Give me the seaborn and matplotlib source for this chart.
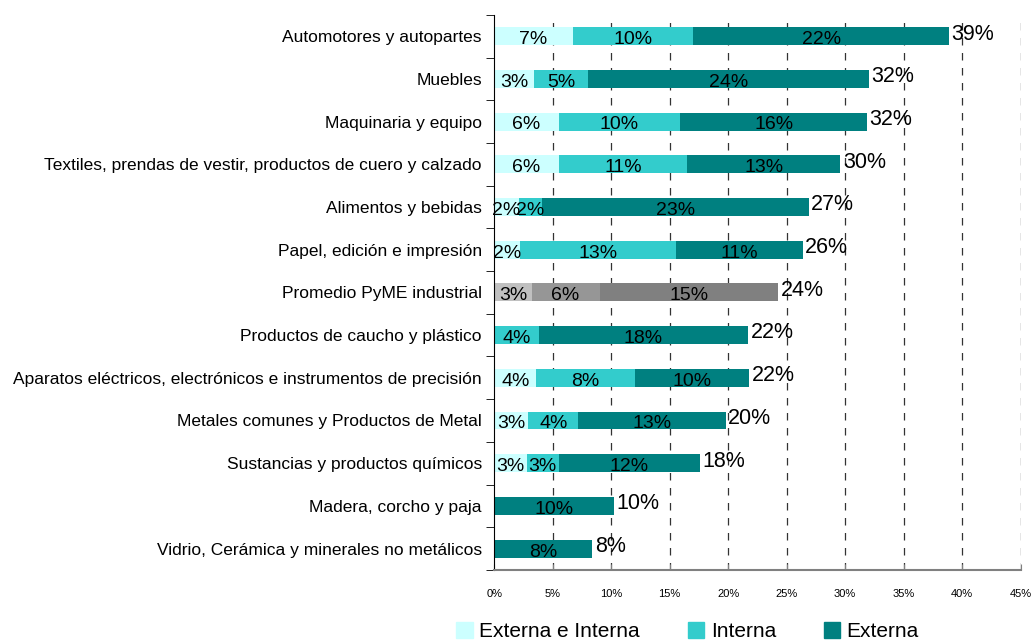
import matplotlib
matplotlib.use("Agg")
import matplotlib.pyplot as plt
import matplotlib.patches as mpatches
import seaborn as sns
import numpy as np
import pandas as pd

categorias = [
    "Automotores y autopartes",
    "Muebles",
    "Maquinaria y equipo",
    "Textiles, prendas de vestir, productos de cuero y calzado",
    "Alimentos y bebidas",
    "Papel, edición e impresión",
    "Promedio PyME industrial",
    "Productos de caucho y plástico",
    "Aparatos eléctricos, electrónicos e instrumentos de precisión",
    "Metales comunes y Productos de Metal",
    "Sustancias y productos químicos",
    "Madera, corcho y paja",
    "Vidrio, Cerámica y minerales no metálicos",
]
ext_int = [6.7, 3.4, 5.5, 5.5, 2.1, 2.2, 3.2, 0.0, 3.6, 2.9, 2.8, 0.0, 0.0]
interna = [10.3, 4.6, 10.4, 11.0, 2.0, 13.3, 5.8, 3.8, 8.4, 4.3, 2.7, 0.0, 0.0]
externa = [21.9, 24.0, 16.0, 13.1, 22.8, 10.9, 15.3, 17.9, 9.8, 12.6, 12.1, 10.2, 8.4]
series = ["Externa e Interna", "Interna", "Externa"]
xticks = [0, 5, 10, 15, 20, 25, 30, 35, 40, 45]

colores = ["#CCFFFF", "#33CCCC", "#008080"]
grises = ["#C0C0C0", "#969696", "#808080"]
promedio = "Promedio PyME industrial"

df = pd.DataFrame({"cat": categorias, "a": ext_int, "b": interna, "c": externa})
df["c1"] = df["a"]
df["c2"] = df["a"] + df["b"]
df["c3"] = df["c2"] + df["c"]

plt.rcParams["font.family"] = ["Liberation Sans", "DejaVu Sans"]
fig = plt.figure(figsize=(10.34, 6.44), dpi=100)
ax = fig.add_axes([0.478, 0.115, 0.509, 0.862])

# barras apiladas: se dibuja el acumulado de mayor a menor
for k, col in zip([2, 1, 0], ["c3", "c2", "c1"]):
    pal = {c: (grises[k] if c == promedio else colores[k]) for c in categorias}
    sns.barplot(data=df, x=col, y="cat", hue="cat", palette=pal, legend=False,
                orient="h", width=0.42, saturation=1, ax=ax, zorder=2)

# etiquetas de cada tramo
for i, row in df.iterrows():
    inicio = 0
    for v in [row["a"], row["b"], row["c"]]:
        if v > 0:
            ax.text(inicio + v / 2, i + 0.08, f"{v:.0f}%", ha="center", va="center",
                    fontsize=14, color="black", zorder=3)
        inicio += v
    ax.text(row["c3"] + 0.2, i - 0.05, f"{row['c3']:.0f}%", ha="left", va="center",
            fontsize=15.5, color="black", zorder=3)

ax.set_xlim(0, 45)
ax.set_ylim(len(categorias) - 0.5, -0.5)
ax.set_xticks(xticks)
ax.set_xticklabels([f"{t}%" for t in xticks], fontsize=8)
ax.set_xlabel("")
ax.set_ylabel("")
ax.tick_params(axis="y", length=0, labelsize=12.5, pad=9)
ax.set_yticks(np.arange(len(categorias) + 1) - 0.5, minor=True)
ax.tick_params(axis="y", which="minor", length=6, direction="out")
ax.tick_params(axis="x", length=4, direction="in", pad=14, color="#808080")

for x in xticks[1:]:
    ax.axvline(x, color="#333333", linestyle=(0, (6, 6)), linewidth=0.9, zorder=1)

for s in ["top", "right"]:
    ax.spines[s].set_visible(False)
ax.spines["left"].set_color("black")
ax.spines["bottom"].set_color("#808080")
ax.spines["bottom"].set_linewidth(1.5)

handles = [mpatches.Patch(color=c, label=s) for c, s in zip(colores, series)]
fig.legend(handles=handles, loc="lower center", bbox_to_anchor=(0.665, -0.025), ncol=3,
           frameon=False, fontsize=15, handlelength=0.8, handleheight=0.8,
           handletextpad=0.3, columnspacing=2.3)

fig.savefig("out.png", dpi=100)
